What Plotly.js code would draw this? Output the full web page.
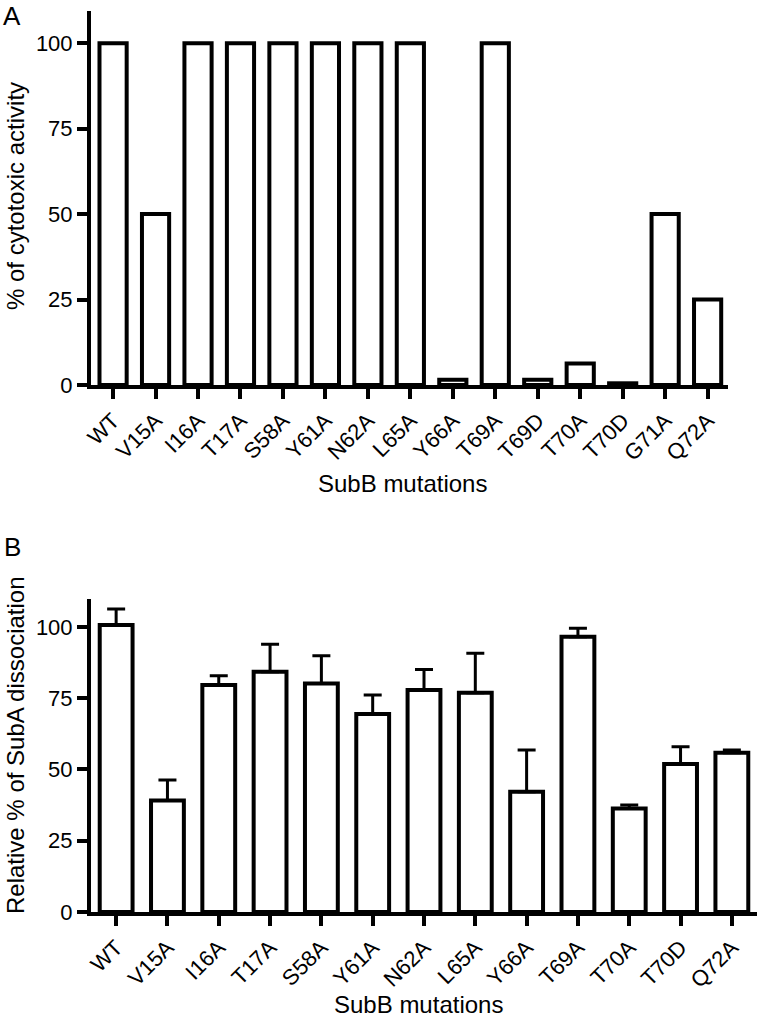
<!DOCTYPE html>
<html>
<head>
<meta charset="utf-8">
<script src="https://cdn.plot.ly/plotly-3.0.1.min.js"></script>
<style>
  html, body { margin: 0; padding: 0; background: #ffffff; }
  #chart { width: 760px; height: 1020px; }
</style>
</head>
<body>
<div id="chart"></div>
<script>
// ---- Data ----
const categoriesA = ['WT','V15A','I16A','T17A','S58A','Y61A','N62A','L65A','Y66A','T69A','T69D','T70A','T70D','G71A','Q72A'];
const cytotoxicA = [100, 50, 100, 100, 100, 100, 100, 100, 1.5, 100, 1.5, 6.3, 0.5, 50, 25];

const categoriesB = ['WT','V15A','I16A','T17A','S58A','Y61A','N62A','L65A','Y66A','T69A','T70A','T70D','Q72A'];
const dissociationB = [100.7, 39.1, 79.6, 84.3, 80.2, 69.5, 77.9, 76.9, 42.2, 96.6, 36.3, 51.9, 55.9];
const errorB = [5.6, 7.2, 3.3, 9.6, 9.7, 6.6, 7.2, 13.9, 14.6, 2.9, 1.2, 6.1, 0.9];

const yTickVals = [0, 25, 50, 75, 100];
const yTickText = ['0', '25', '50', '75', '100'];

const titleA_y = '% of cytotoxic activity';
const titleB_y = 'Relative % of SubA dissociation';
const titleX = 'SubB mutations';

// ---- Layout helpers (pixel -> paper) ----
const W = 760, H = 1020;
const px = x => x / W;
const py = y => 1 - y / H;

const FONT = 'Liberation Sans, Arial, Helvetica, sans-serif';

const traceA = {
  type: 'bar',
  x: categoriesA,
  y: cytotoxicA,
  xaxis: 'x', yaxis: 'y',
  width: 0.64,
  marker: { color: '#ffffff', line: { color: '#000000', width: 4 } },
  hoverinfo: 'x+y'
};

const traceB = {
  type: 'bar',
  x: categoriesB,
  y: dissociationB,
  xaxis: 'x2', yaxis: 'y2',
  width: 0.64,
  marker: { color: '#ffffff', line: { color: '#000000', width: 4 } },
  error_y: {
    type: 'data',
    symmetric: false,
    array: errorB,
    arrayminus: errorB.map(() => 0),
    color: '#000000',
    thickness: 3,
    width: 9
  },
  hoverinfo: 'x+y'
};

const xAxisCommon = {
  type: 'category',
  showline: true, linecolor: '#000000', linewidth: 4,
  ticks: 'outside', ticklen: 10, tickwidth: 4, tickcolor: '#000000',
  tickangle: -45,
  tickfont: { family: FONT, size: 22, color: '#000000' },
  showgrid: false, zeroline: false, fixedrange: true
};

const yAxisCommon = {
  showline: true, linecolor: '#000000', linewidth: 4,
  ticks: 'outside', ticklen: 10, tickwidth: 4, tickcolor: '#000000',
  tickvals: yTickVals, ticktext: yTickText,
  tickfont: { family: FONT, size: 22, color: '#000000' },
  showgrid: false, zeroline: false, fixedrange: true
};

const layout = {
  width: W, height: H,
  margin: { l: 0, r: 0, t: 0, b: 0 },
  paper_bgcolor: '#ffffff', plot_bgcolor: 'rgba(0,0,0,0)',
  showlegend: false,
  font: { family: FONT, color: '#000000' },
  xaxis: Object.assign({}, xAxisCommon, {
    domain: [px(91), px(728)], anchor: 'y', range: [-0.52, 14.48]
  }),
  yaxis: Object.assign({}, yAxisCommon, {
    domain: [py(385), py(11)], anchor: 'x', range: [0, 109.4]
  }),
  xaxis2: Object.assign({}, xAxisCommon, {
    domain: [px(91), px(757)], anchor: 'y2', range: [-0.49, 12.49]
  }),
  yaxis2: Object.assign({}, yAxisCommon, {
    domain: [py(912), py(599)], anchor: 'x2', range: [0, 109.8]
  }),
  annotations: [
    { text: 'A', xref: 'paper', yref: 'paper', x: px(12), y: py(16), xanchor: 'center', yanchor: 'middle', showarrow: false, font: { family: FONT, size: 26, color: '#000' } },
    { text: 'B', xref: 'paper', yref: 'paper', x: px(12), y: py(547), xanchor: 'center', yanchor: 'middle', showarrow: false, font: { family: FONT, size: 26, color: '#000' } },
    { text: titleA_y, xref: 'paper', yref: 'paper', x: px(16), y: py(196), xanchor: 'center', yanchor: 'middle', textangle: -90, showarrow: false, font: { family: FONT, size: 24, color: '#000' } },
    { text: titleB_y, xref: 'paper', yref: 'paper', x: px(15), y: py(745), xanchor: 'center', yanchor: 'middle', textangle: -90, showarrow: false, font: { family: FONT, size: 24, color: '#000' } },
    { text: titleX, xref: 'paper', yref: 'paper', x: px(402), y: py(483), xanchor: 'center', yanchor: 'middle', showarrow: false, font: { family: FONT, size: 24, color: '#000' } },
    { text: titleX, xref: 'paper', yref: 'paper', x: px(418), y: py(1019), xanchor: 'center', yanchor: 'bottom', showarrow: false, borderpad: 0, font: { family: FONT, size: 24, color: '#000' } }
  ]
};

Plotly.newPlot('chart', [traceA, traceB], layout, { displayModeBar: false, staticPlot: true });
</script>
</body>
</html>
